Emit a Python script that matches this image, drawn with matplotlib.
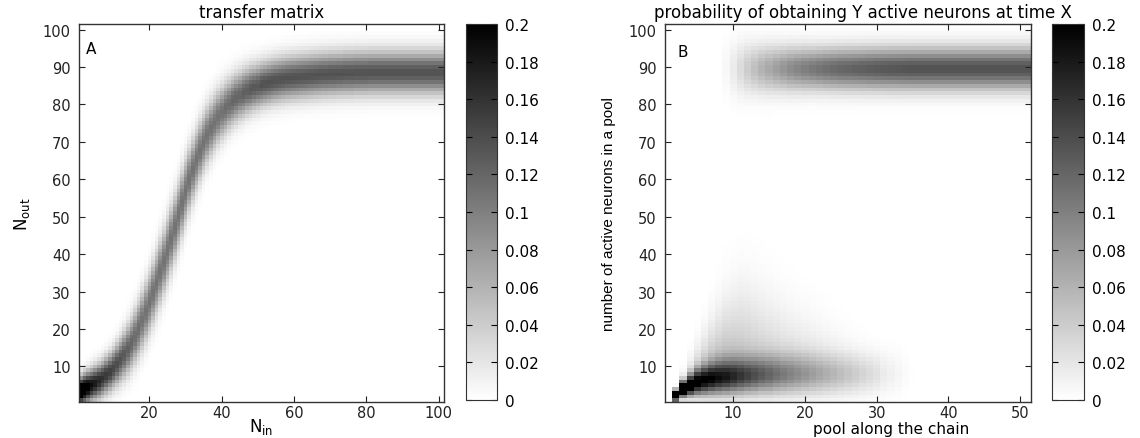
import numpy as np
import matplotlib.pyplot as plt

plt.rcParams['font.family'] = 'DejaVu Sans'

# ---- panel A : transfer matrix, one column per N_in (1..101) ----
# centre of the band (N_out) read for every column
a_center = [3.5, 4.0, 4.5, 5.0, 5.5, 6.1, 6.8, 7.6, 8.5, 9.5,
            10.6, 11.8, 13.1, 14.6, 16.2, 18.0, 20.0, 22.2, 24.6, 27.1,
            29.7, 32.4, 35.2, 38.0, 41.0, 44.0, 47.2, 50.4, 53.6, 56.8,
            59.8, 62.6, 65.2, 67.6, 69.8, 71.8, 73.6, 75.2, 76.6, 77.9,
            79.0, 80.0, 80.9, 81.7, 82.4, 83.0, 83.6, 84.1, 84.5, 84.9,
            85.3, 85.6, 85.9, 86.2, 86.4, 86.6, 86.8, 87.0, 87.1, 87.2,
            87.3, 87.4, 87.5, 87.6, 87.7, 87.8, 87.9, 88.0, 88.0, 88.1,
            88.1, 88.2, 88.2, 88.3, 88.3, 88.3, 88.4, 88.4, 88.4, 88.4] + [88.5] * 21
# width of the band (N_out units)
a_spread = [2.4, 2.6, 2.7, 2.8, 2.9, 3.0, 3.1, 3.2, 3.3, 3.4,
            3.6, 3.8, 4.0, 4.2, 4.4, 4.6, 4.8, 5.0, 5.1, 5.2,
            5.3, 5.4, 5.5, 5.5, 5.6, 5.6, 5.6, 5.6, 5.6, 5.5,
            5.4, 5.3, 5.2, 5.1, 5.0, 4.9, 4.8, 4.7, 4.6, 4.5,
            4.4, 4.3, 4.2, 4.2, 4.1, 4.1, 4.0, 4.0, 3.9, 3.9] + [3.8] * 51
# darkness at the centre of the band
a_peak = [0.25, 0.23, 0.21, 0.19, 0.18, 0.17, 0.16, 0.155, 0.15, 0.145,
          0.14, 0.135, 0.13, 0.125, 0.12, 0.115, 0.115, 0.11, 0.11, 0.11] + [0.11] * 20 + \
         [0.115, 0.115, 0.12, 0.12, 0.12, 0.125, 0.125, 0.13, 0.13, 0.13] + [0.135] * 51

# ---- panel B : probability along the chain, one column per pool (1..51) ----
lo_peak = [0, 0.35, 0.26, 0.2, 0.17, 0.155, 0.145, 0.135, 0.128, 0.12,
           0.112, 0.105, 0.098, 0.092, 0.086, 0.08, 0.075, 0.07, 0.065, 0.06,
           0.055, 0.05, 0.046, 0.042, 0.038, 0.034, 0.03, 0.026, 0.022, 0.018,
           0.012, 0.009, 0.006, 0.003, 0.001] + [0] * 16
lo_center = [2.0, 2.3, 4.0, 5.0, 5.8, 6.3, 6.7, 7.0, 7.2, 7.4,
             7.5, 7.6, 7.7, 7.8, 7.8, 7.9, 7.9, 8.0, 8.0, 8.0] + [8.0] * 31
lo_spread = [1.0, 0.9, 1.4, 1.9, 2.3, 2.6, 2.8, 3.0, 3.1, 3.2,
             3.3, 3.3, 3.4, 3.4, 3.5, 3.5, 3.5, 3.6, 3.6, 3.6] + [3.6] * 31
tail_peak = [0, 0, 0.02, 0.035, 0.045, 0.05, 0.055, 0.055, 0.055, 0.052,
             0.048, 0.045, 0.042, 0.039, 0.036, 0.033, 0.03, 0.028, 0.026, 0.024,
             0.022, 0.02, 0.018, 0.016, 0.014, 0.012, 0.01, 0.008, 0.007, 0.006,
             0.004, 0.003, 0.002, 0.001] + [0] * 17
tail_spread = [1, 1, 3, 4.5, 6, 7.5, 9, 10.5, 12, 13,
               14, 14, 13.5, 13, 12.5, 12, 11.5, 11, 10.5, 10,
               9.5, 9, 8.5, 8, 7.5, 7, 6.5, 6, 5.5] + [5] * 22
hi_peak = [0] * 8 + [0.006, 0.016, 0.028, 0.04, 0.05, 0.06, 0.068, 0.076, 0.083,
                     0.09, 0.096, 0.101, 0.106, 0.11, 0.114, 0.117, 0.12, 0.122,
                     0.124, 0.126, 0.128, 0.13, 0.131, 0.132, 0.133, 0.134, 0.135] + [0.135] * 16
hi_spread = [4] * 8 + [5.2, 5.0, 4.8, 4.6, 4.4, 4.3, 4.2, 4.1, 4.0, 4.0, 3.9, 3.9, 3.8] + [3.8] * 30
hi_center = 89.5

y_ticks = [10, 20, 30, 40, 50, 60, 70, 80, 90, 100]
cb_ticks = [0, 0.02, 0.04, 0.06, 0.08, 0.1, 0.12, 0.14, 0.16, 0.18, 0.2]


def gauss(y, c, s):
    return np.exp(-0.5 * ((y - c) / s) ** 2)


def transfer_matrix():
    y = np.arange(1, 102)
    m = np.zeros((101, 101))
    for j in range(101):
        m[:, j] = a_peak[j] * gauss(y, a_center[j], a_spread[j])
    return m


def chain_matrix():
    y = np.arange(1, 102)
    m = np.zeros((101, 51))
    for k in range(51):
        c, s = lo_center[k], lo_spread[k]
        tail = np.where(y >= c, gauss(y, c, tail_spread[k]), gauss(y, c, s))
        m[:, k] = (lo_peak[k] * gauss(y, c, s) + tail_peak[k] * tail
                   + hi_peak[k] * gauss(y, hi_center, hi_spread[k]))
    return m


def style_axes(ax):
    ax.tick_params(direction='in', top=True, right=True, length=4, width=0.8,
                   labelsize=10.5, colors='#222222')
    ax.tick_params(axis='x', pad=2.5)
    ax.tick_params(axis='y', pad=6)
    for sp in ax.spines.values():
        sp.set_color('#333333')
        sp.set_linewidth(1.0)


def style_cbar(cb):
    cb.ax.yaxis.set_ticks_position('both')
    cb.ax.tick_params(direction='in', length=4, width=0.8, labelsize=11, pad=6,
                      labelleft=False, labelright=True)
    cb.ax.set_yticklabels(['%g' % t for t in cb_ticks])
    cb.outline.set_edgecolor('#333333')


W, H = 1140, 439
fig = plt.figure(figsize=(W / 100, H / 100), dpi=100)
ax_a = fig.add_axes([79 / W, 36 / H, 365 / W, 378 / H])
cax_a = fig.add_axes([466 / W, 38 / H, 31 / W, 376 / H])
ax_b = fig.add_axes([665 / W, 36 / H, 366 / W, 378 / H])
cax_b = fig.add_axes([1052 / W, 38 / H, 32 / W, 376 / H])

im_a = ax_a.imshow(transfer_matrix(), origin='lower', cmap='gray_r', vmin=0, vmax=0.2,
                   extent=(0.5, 101.5, 0.5, 101.5), aspect='auto', interpolation='nearest')
ax_a.set_xticks([20, 40, 60, 80, 100])
ax_a.set_yticks(y_ticks)
ax_a.set_title('transfer matrix', fontsize=12, pad=5)
ax_a.set_xlabel(r'N$_{\rm in}$', fontsize=12)
ax_a.xaxis.set_label_coords(0.5, -0.038)
ax_a.set_ylabel(r'N$_{\rm out}$', fontsize=12, labelpad=8)
ax_a.text(0.018, 0.935, 'A', transform=ax_a.transAxes, fontsize=11, va='center')
style_axes(ax_a)
cb_a = fig.colorbar(im_a, cax=cax_a, ticks=cb_ticks)
style_cbar(cb_a)

im_b = ax_b.imshow(chain_matrix(), origin='lower', cmap='gray_r', vmin=0, vmax=0.2,
                   extent=(0.5, 51.5, 0.5, 101.5), aspect='auto', interpolation='nearest')
ax_b.set_xticks([10, 20, 30, 40, 50])
ax_b.set_yticks(y_ticks)
ax_b.set_title('probability of obtaining Y active neurons at time X', fontsize=12,
               pad=5, x=0.54)
ax_b.set_xlabel('pool along the chain', fontsize=11)
ax_b.xaxis.set_label_coords(0.617, -0.05)
ax_b.set_ylabel('number of active neurons in a pool', fontsize=11, labelpad=9,
                family=['DejaVu Sans Condensed', 'Liberation Sans Narrow', 'Liberation Sans'])
ax_b.text(0.033, 0.926, 'B', transform=ax_b.transAxes, fontsize=11, va='center')
style_axes(ax_b)
cb_b = fig.colorbar(im_b, cax=cax_b, ticks=cb_ticks)
style_cbar(cb_b)

fig.savefig('out.png', dpi=100)
